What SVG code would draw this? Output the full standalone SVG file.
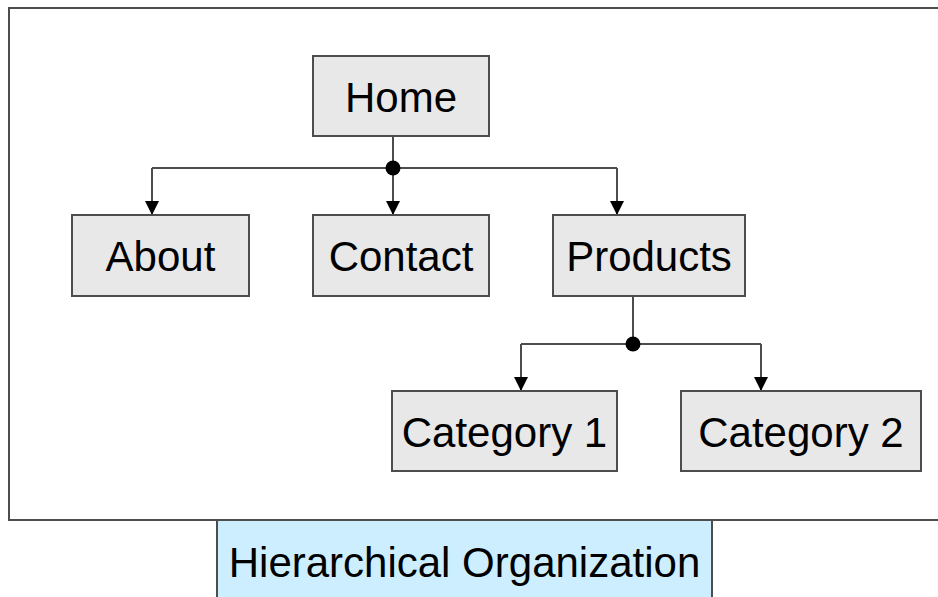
<svg xmlns="http://www.w3.org/2000/svg" width="938" height="597" viewBox="0 0 938 597">
<defs>
<style>
.node rect{fill:#e8e8e8;stroke:#4d4d4d;stroke-width:2}
.node text,.cap text{font-family:"Liberation Sans",Arial,sans-serif;font-size:42px;fill:#000;text-anchor:middle}
.conn{fill:none;stroke:#4d4d4d;stroke-width:2}
</style>
<marker id="arr" viewBox="0 0 14 14" markerWidth="14" markerHeight="14" refX="14" refY="7" orient="auto" markerUnits="userSpaceOnUse">
<path d="M0,0 L14,7 L0,14 Z" fill="#000"/>
</marker>
</defs>
<rect x="9" y="8" width="940" height="512" fill="#fff" stroke="#4d4d4d" stroke-width="2"/>
<g id="connectors">
<path class="conn" d="M393,136 V168"/>
<path class="conn" d="M152,168 H617"/>
<path class="conn" d="M152,168 V215" marker-end="url(#arr)"/>
<path class="conn" d="M393,168 V215" marker-end="url(#arr)"/>
<path class="conn" d="M617,168 V215" marker-end="url(#arr)"/>
<circle cx="393" cy="168" r="7.5" fill="#000"/>
<path class="conn" d="M633,296 V344"/>
<path class="conn" d="M521,344 H761"/>
<path class="conn" d="M521,344 V391" marker-end="url(#arr)"/>
<path class="conn" d="M761,344 V391" marker-end="url(#arr)"/>
<circle cx="633" cy="344" r="7.5" fill="#000"/>
</g>
<g id="home" class="node"><rect x="313" y="56" width="176" height="80"/><text x="401" y="112">Home</text></g>
<g id="about" class="node"><rect x="72" y="215" width="177" height="81"/><text x="160.5" y="271">About</text></g>
<g id="contact" class="node"><rect x="313" y="215" width="176" height="81"/><text x="401" y="271">Contact</text></g>
<g id="products" class="node"><rect x="553" y="215" width="192" height="81"/><text x="649" y="271">Products</text></g>
<g id="category1" class="node"><rect x="392" y="391" width="225" height="80"/><text x="504.5" y="447">Category 1</text></g>
<g id="category2" class="node"><rect x="681" y="391" width="240" height="80"/><text x="801" y="447">Category 2</text></g>
<g id="caption" class="cap"><rect x="217" y="520" width="495" height="90" fill="#cceeff" stroke="#4d4d4d" stroke-width="2"/><text x="464.5" y="577">Hierarchical Organization</text></g>
</svg>
